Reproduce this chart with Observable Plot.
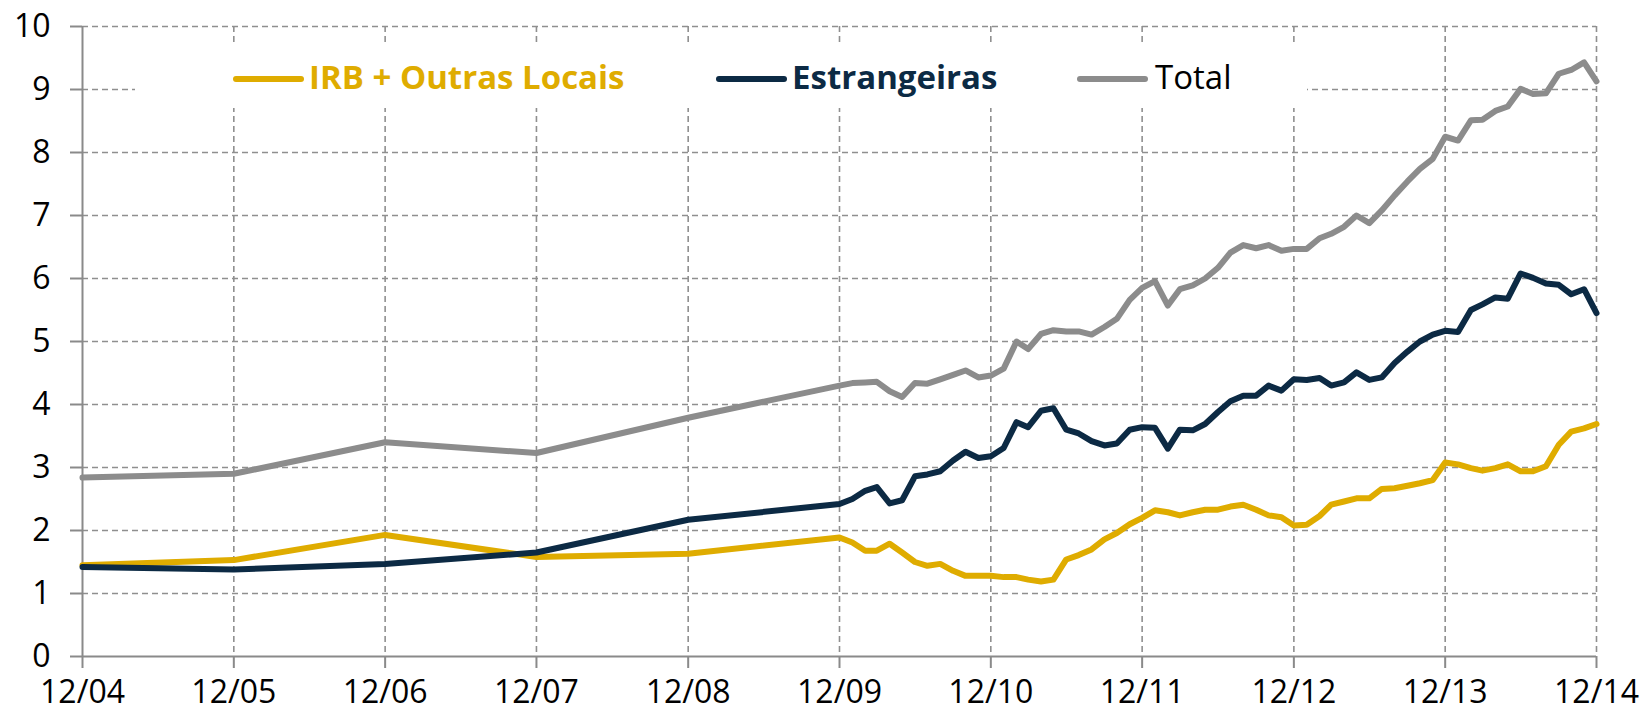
<!DOCTYPE html>
<html>
<head>
<meta charset="utf-8">
<script src="https://cdn.jsdelivr.net/npm/d3@7"></script>
<script src="https://cdn.jsdelivr.net/npm/@observablehq/plot@0.6"></script>
<style>
  html, body { margin: 0; padding: 0; background: #fff; }
  #wrap { position: relative; width: 1645px; height: 719px; overflow: hidden; }
  #legend { position: absolute; left: 135px; top: 45px; width: 1172px; height: 63px; background: #fff;
            font-family: 'Open Sans', sans-serif; font-size: 33px; }
  .sw { position: absolute; height: 6px; border-radius: 3px; top: 31px; }
  .lt { position: absolute; top: 10px; line-height: 44px; white-space: nowrap; }
</style>
</head>
<body>
<div id="wrap">
  <div id="chart"></div>
  <div id="legend"></div>
</div>
<script>
// ---- data ----
const months = [
  "2004-12","2005-12","2006-12","2007-12","2008-12","2009-12",
  "2010-01","2010-02","2010-03","2010-04","2010-05","2010-06","2010-07","2010-08","2010-09","2010-10","2010-11","2010-12",
  "2011-01","2011-02","2011-03","2011-04","2011-05","2011-06","2011-07","2011-08","2011-09","2011-10","2011-11","2011-12",
  "2012-01","2012-02","2012-03","2012-04","2012-05","2012-06","2012-07","2012-08","2012-09","2012-10","2012-11","2012-12",
  "2013-01","2013-02","2013-03","2013-04","2013-05","2013-06","2013-07","2013-08","2013-09","2013-10","2013-11","2013-12",
  "2014-01","2014-02","2014-03","2014-04","2014-05","2014-06","2014-07","2014-08","2014-09","2014-10","2014-11","2014-12"
];
const irbOutrasLocais = [
  1.45, 1.53, 1.93, 1.58, 1.63, 1.89,
  1.81, 1.68, 1.68, 1.79, 1.65, 1.50, 1.44, 1.47, 1.36, 1.28, 1.28, 1.28,
  1.26, 1.26, 1.22, 1.19, 1.22, 1.54, 1.61, 1.70, 1.86, 1.96, 2.10, 2.20,
  2.32, 2.29, 2.24, 2.29, 2.33, 2.33, 2.38, 2.41, 2.33, 2.24, 2.21, 2.08,
  2.09, 2.23, 2.41, 2.46, 2.51, 2.51, 2.66, 2.67, 2.71, 2.75, 2.80, 3.08,
  3.05, 2.99, 2.95, 2.99, 3.05, 2.94, 2.94, 3.02, 3.36, 3.57, 3.62, 3.69
];
const estrangeiras = [
  1.42, 1.38, 1.47, 1.65, 2.17, 2.42,
  2.50, 2.63, 2.69, 2.43, 2.48, 2.86, 2.89, 2.94, 3.11, 3.25, 3.15, 3.18,
  3.31, 3.72, 3.64, 3.90, 3.94, 3.60, 3.54, 3.42, 3.35, 3.38, 3.60, 3.64,
  3.63, 3.30, 3.60, 3.59, 3.69, 3.88, 4.05, 4.14, 4.14, 4.30, 4.22, 4.40,
  4.39, 4.42, 4.30, 4.35, 4.51, 4.39, 4.43, 4.66, 4.84, 5.00, 5.11, 5.17,
  5.15, 5.50, 5.59, 5.70, 5.68, 6.08, 6.01, 5.92, 5.90, 5.75, 5.83, 5.45
];
const total = [
  2.84, 2.90, 3.40, 3.23, 3.79, 4.30,
  4.34, 4.35, 4.36, 4.21, 4.12, 4.34, 4.33, 4.40, 4.47, 4.54, 4.43, 4.46,
  4.57, 5.00, 4.88, 5.12, 5.18, 5.16, 5.16, 5.11, 5.23, 5.36, 5.66, 5.85,
  5.96, 5.57, 5.83, 5.89, 6.00, 6.17, 6.41, 6.53, 6.48, 6.53, 6.44, 6.47,
  6.47, 6.64, 6.71, 6.82, 7.00, 6.88, 7.08, 7.32, 7.54, 7.74, 7.90, 8.25,
  8.19, 8.51, 8.52, 8.66, 8.73, 9.01, 8.93, 8.94, 9.25, 9.31, 9.43, 9.13
];
const xTickMonths = ["2004-12","2005-12","2006-12","2007-12","2008-12","2009-12","2010-12","2011-12","2012-12","2013-12","2014-12"];
const yTickValues = [0,1,2,3,4,5,6,7,8,9,10];
const seriesNames = ["IRB + Outras Locais", "Estrangeiras", "Total"];
const seriesColors = ["#DFAC00", "#0C2A44", "#8C8C8C"];

// ---- build ----
const parse = d3.utcParse("%Y-%m");
const dates = months.map(parse);
const xTicks = xTickMonths.map(parse);
const fmt = d3.utcFormat("%m/%y");
const gridColor = "#8f8f8f";
const axisColor = "#8a8a8a";

const seriesData = [irbOutrasLocais, estrangeiras, total];

const chart = Plot.plot({
  width: 1645,
  height: 719,
  marginLeft: 82,
  marginRight: 49,
  marginTop: 26,
  marginBottom: 63,
  style: { fontFamily: "'Open Sans', sans-serif", fontSize: "32px", color: "#000", background: "#fff" },
  x: { type: "utc", domain: [xTicks[0], xTicks[xTicks.length - 1]] },
  y: { domain: [0, 10] },
  marks: [
    Plot.gridY(yTickValues.slice(1), { stroke: gridColor, strokeOpacity: 1, strokeWidth: 1.6, strokeDasharray: "6,4" }),
    Plot.gridX(xTicks.slice(1), { stroke: gridColor, strokeOpacity: 1, strokeWidth: 1.6, strokeDasharray: "6,4" }),
    Plot.ruleX([xTicks[0]], { stroke: axisColor, strokeWidth: 2 }),
    Plot.ruleY([0], { stroke: axisColor, strokeWidth: 2 }),
    Plot.axisY(yTickValues, { tickSize: 12, tickPadding: 20, tickFormat: d3.format("d"), stroke: axisColor, strokeWidth: 2, fill: "#000", label: null }),
    Plot.axisX(xTicks, { tickSize: 12, tickPadding: 12, tickFormat: fmt, stroke: axisColor, strokeWidth: 2, fill: "#000", label: null }),
    ...seriesData.map((vals, s) =>
      Plot.line(vals, {
        x: (d, i) => dates[i],
        y: d => d,
        stroke: seriesColors[s],
        strokeWidth: 6,
        strokeLinejoin: "round",
        strokeLinecap: "round"
      })
    )
  ]
});
document.getElementById("chart").appendChild(chart);

// ---- legend (HTML, overlaid) ----
const legend = document.getElementById("legend");
const legendLayout = [
  { sw: 98, tx: 174, bold: true, textColor: seriesColors[0] },
  { sw: 581, tx: 657, bold: true, textColor: seriesColors[1] },
  { sw: 942, tx: 1020, bold: false, textColor: "#000" }
];
seriesNames.forEach((name, i) => {
  const L = legendLayout[i];
  const sw = document.createElement("span");
  sw.className = "sw";
  sw.style.left = L.sw + "px";
  sw.style.width = "71px";
  sw.style.background = seriesColors[i];
  legend.appendChild(sw);
  const t = document.createElement("span");
  t.className = "lt";
  t.style.left = L.tx + "px";
  t.style.color = L.textColor;
  t.style.fontWeight = L.bold ? "700" : "400";
  t.textContent = name;
  legend.appendChild(t);
});
</script>
</body>
</html>
